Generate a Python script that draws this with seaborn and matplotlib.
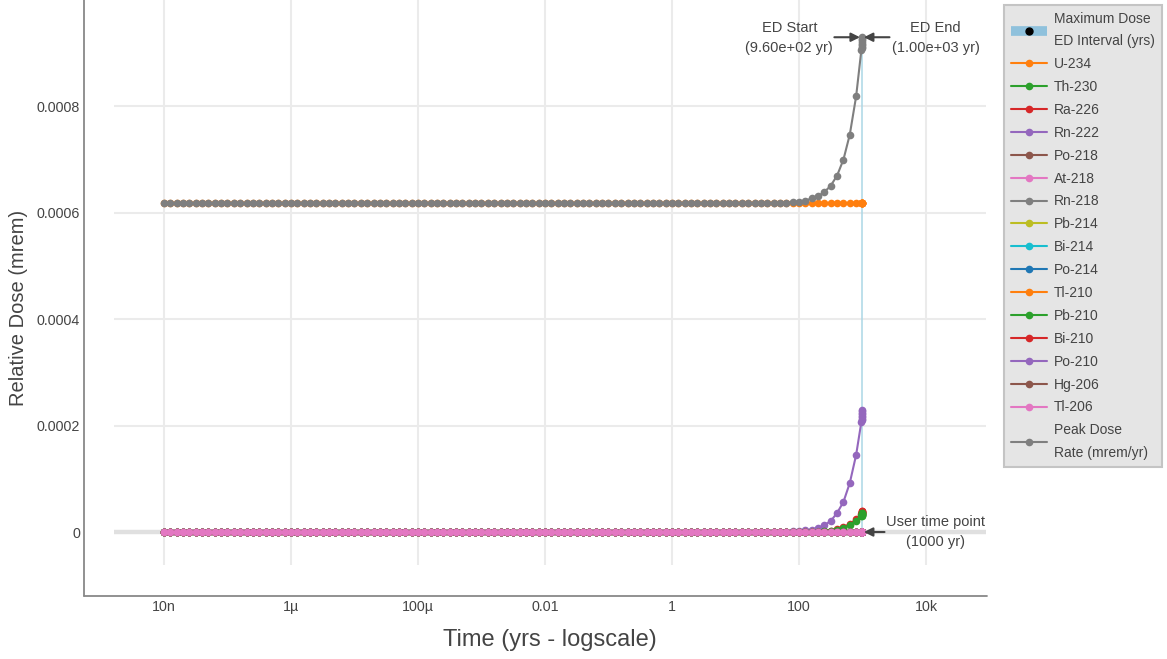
import numpy as np
import pandas as pd
import seaborn as sns
import matplotlib.pyplot as plt
from matplotlib.lines import Line2D
from matplotlib.legend_handler import HandlerTuple

# time grid: 10 points per decade from 10n to ~800 yr, then the ED interval 960-1000 yr
times = list(np.logspace(-8, 2.9, 110)) + [960, 965, 970, 975, 980, 985, 990, 995, 1000]
n_head = 95  # points from 1e-8 to 10^1.4 where everything is flat

nuclides = ["U-234", "Th-230", "Ra-226", "Rn-222", "Po-218", "At-218", "Rn-218",
            "Pb-214", "Bi-214", "Po-214", "Tl-210", "Pb-210", "Bi-210", "Po-210",
            "Hg-206", "Tl-206"]

u234 = [0.000618] * len(times)

rn222_tail = [0.0000002, 0.0000003, 0.0000005, 0.0000008, 0.0000012, 0.0000019, 0.000003,
              0.0000047, 0.0000075, 0.0000128, 0.0000207, 0.0000358, 0.0000565, 0.0000922,
              0.000145,
              0.000207, 0.000210, 0.000213, 0.000216, 0.000219, 0.000221, 0.000224, 0.000227,
              0.000230]
ra226_tail = [0, 0, 0, 0, 0, 0, 0.0000002, 0.0000004, 0.0000008, 0.0000015, 0.0000028,
              0.000005, 0.000009, 0.000015, 0.000024,
              0.000034, 0.0000348, 0.0000355, 0.0000363, 0.000037, 0.0000378, 0.0000385,
              0.0000393, 0.00004]
pb210_tail = [0, 0, 0, 0, 0, 0, 0.0000001, 0.0000003, 0.0000006, 0.0000012, 0.0000023,
              0.0000042, 0.0000075, 0.000013, 0.000021,
              0.00003, 0.0000307, 0.0000314, 0.0000321, 0.0000328, 0.0000335, 0.0000342,
              0.0000349, 0.0000356]
total_tail = [0.000618, 0.000618, 0.000619, 0.000619, 0.000620, 0.000621, 0.000623,
              0.000627, 0.000631, 0.000639, 0.000651, 0.000670, 0.000700, 0.000747,
              0.000819,
              0.000906, 0.000909, 0.000912, 0.000915, 0.000918, 0.000921, 0.000924,
              0.000927, 0.000930]

zeros = [0.0] * len(times)
series = {name: zeros for name in nuclides}
series["U-234"] = u234
series["Rn-222"] = [0.0] * n_head + rn222_tail
series["Ra-226"] = [0.0] * n_head + ra226_tail
series["Pb-210"] = [0.0] * n_head + pb210_tail
total = [0.000618] * n_head + total_tail

ed_start, ed_end = 960, 1000
user_time = 1000
max_dose = max(total)

palette = sns.color_palette("tab10")
colors = [palette[(i + 1) % 10] for i in range(len(nuclides))]
total_color = palette[7]

rows = []
for name in nuclides:
    for t, v in zip(times, series[name]):
        rows.append((name, t, v))
df = pd.DataFrame(rows, columns=["nuclide", "time", "dose"])
df_total = pd.DataFrame({"time": times, "dose": total})

sns.set_style("white")
plt.rcParams["font.family"] = ["Liberation Sans", "DejaVu Sans"]

W, H = 1167, 659
fig = plt.figure(figsize=(W / 100, H / 100), dpi=100)
ax = fig.add_axes([114 / W, 1 - 565 / H, (986 - 114) / W, 565 / H])

ax.fill_between([ed_start, ed_end], 0, max_dose, color="#add8e6", lw=0.4,
                edgecolor="#add8e6", zorder=1.5)
ax.axhline(0, color="#e0e0e0", lw=3.2, zorder=1.2)

sns.lineplot(data=df, x="time", y="dose", hue="nuclide", hue_order=nuclides,
             palette=colors, marker="o", markersize=5.5, markeredgewidth=0,
             linewidth=1.5, errorbar=None, legend=False, ax=ax, zorder=3)
sns.lineplot(data=df_total, x="time", y="dose", color=total_color, marker="o",
             markersize=5.5, markeredgewidth=0, linewidth=1.5, errorbar=None,
             ax=ax, zorder=3)

ax.set_xscale("log")
ax.set_xlim(10 ** -8.787, 10 ** 4.945)
ax.set_ylim(-0.000062, 0.001)
ax.set_xticks([1e-8, 1e-6, 1e-4, 1e-2, 1, 100, 1e4])
ax.set_xticklabels(["10n", "1µ", "100µ", "0.01", "1", "100", "10k"])
ax.minorticks_off()
ax.set_yticks([0, 0.0002, 0.0004, 0.0006, 0.0008])
ax.set_yticklabels(["0", "0.0002", "0.0004", "0.0006", "0.0008"])
ax.tick_params(axis="y", length=0, pad=24.5, labelsize=10.3, labelcolor="#444444")
ax.tick_params(axis="x", length=0, pad=25.5, labelsize=10.3, labelcolor="#444444")
ax.grid(True, color="#ebebeb", lw=1.5)
ax.set_axisbelow(True)
for s in ax.spines.values():
    s.set_visible(False)
ax.set_xlabel("")
ax.set_ylabel("")

# axis lines sit away from the plot area
fig.add_artist(Line2D([84 / W, 84 / W], [1 - 596 / H, 1], transform=fig.transFigure,
                      color="#888888", lw=1.3))
fig.add_artist(Line2D([84 / W, 987 / W], [1 - 596 / H, 1 - 596 / H],
                      transform=fig.transFigure, color="#888888", lw=1.3))

fig.text(19 / W, 1 - 308 / H, "Relative Dose (mrem)", rotation=90, ha="center",
         va="center", fontsize=14.5, color="#444444")
fig.text(550 / W, 1 - 640 / H, "Time (yrs - logscale)", ha="center", va="center",
         fontsize=17, color="#444444")

arrow = dict(arrowstyle="-|>", color="#444444", lw=1.5, mutation_scale=13,
             shrinkA=0, shrinkB=1)
ax.annotate("", xy=(ed_start, max_dose), xytext=(-27, 0), textcoords="offset pixels",
            arrowprops=arrow)
ax.annotate("ED Start\n(9.60e+02 yr)", xy=(ed_start, max_dose), xytext=(-72, -1),
            textcoords="offset pixels", ha="center", va="center", fontsize=10.5,
            color="#444444", linespacing=1.55)
ax.annotate("", xy=(ed_end, max_dose), xytext=(27, 0), textcoords="offset pixels",
            arrowprops=arrow)
ax.annotate("ED End\n(1.00e+03 yr)", xy=(ed_end, max_dose), xytext=(73, -1),
            textcoords="offset pixels", ha="center", va="center", fontsize=10.5,
            color="#444444", linespacing=1.55)
ax.annotate("", xy=(user_time, 0), xytext=(22, 0), textcoords="offset pixels",
            arrowprops=arrow)
ax.annotate("User time point\n(1000 yr)", xy=(user_time, 0), xytext=(73, 0),
            textcoords="offset pixels", ha="center", va="center", fontsize=10.5,
            color="#444444", linespacing=1.55)

# legend
handles = [(Line2D([], [], color="#8fc1dc", lw=7, solid_capstyle="butt"),
            Line2D([], [], color="black", marker="o", ls="none", ms=5))]
labels = ["Maximum Dose\nED Interval (yrs)"]
for name, c in zip(nuclides, colors):
    handles.append(Line2D([], [], color=c, lw=1.5, marker="o", ms=5.5, mew=0))
    labels.append(name)
handles.append(Line2D([], [], color=total_color, lw=1.5, marker="o", ms=5.5, mew=0))
labels.append("Peak Dose\nRate (mrem/yr)")

leg = fig.legend(handles, labels, loc="upper left", bbox_to_anchor=(1004 / W, 1 - 5 / H),
                 bbox_transform=fig.transFigure, borderaxespad=0, fontsize=10,
                 frameon=True, fancybox=False, facecolor="#e5e5e5", edgecolor="#c4c4c4",
                 framealpha=1, handlelength=2.6, handletextpad=0.5, labelspacing=0.64,
                 borderpad=0.5, handler_map={tuple: HandlerTuple(ndivide=1, pad=0)})
leg.get_frame().set_linewidth(1.5)
for t in leg.get_texts():
    t.set_color("#444444")
    t.set_linespacing(1.75)

fig.savefig("out.png", dpi=100)
